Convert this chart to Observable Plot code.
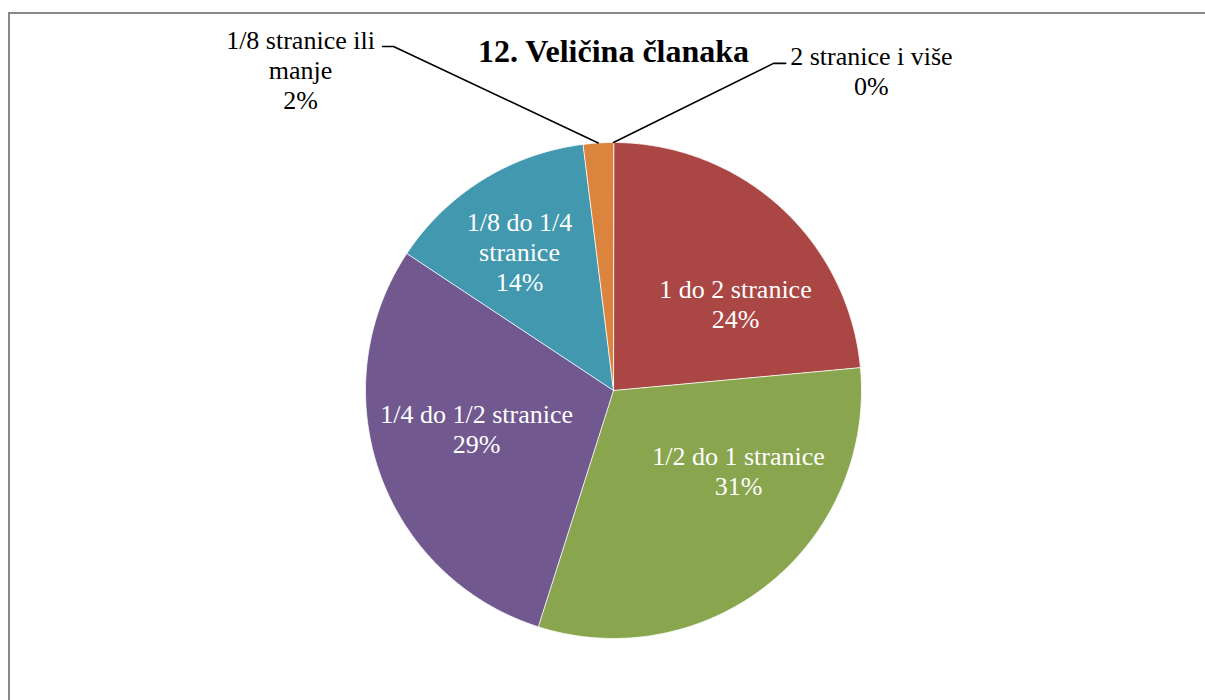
<!DOCTYPE html>
<html><head><meta charset="utf-8">
<script src="https://cdn.jsdelivr.net/npm/d3@7"></script>
<script src="https://cdn.jsdelivr.net/npm/@observablehq/plot@0.6"></script>
<style>
html,body{margin:0;padding:0;background:#fff;overflow:hidden;}
#wrap{position:relative;width:1205px;height:700px;overflow:hidden;}
#border{position:absolute;left:8px;top:12px;width:3000px;height:3000px;border-left:2px solid #898989;border-top:2px solid #898989;}
#chart{position:absolute;left:0;top:0;}
</style></head><body>
<div id="wrap"><div id="border"></div><div id="chart"></div></div>
<script>
// ---- data ----
const title = "12. Veličina članaka";
const categories = ["2 stranice i više", "1 do 2 stranice", "1/2 do 1 stranice", "1/4 do 1/2 stranice", "1/8 do 1/4 stranice", "1/8 stranice ili manje"];
const counts = [0, 12, 16, 15, 7, 1];
const labelLines = ["2 stranice i više", "1 do 2 stranice", "1/2 do 1 stranice", "1/4 do 1/2 stranice", "1/8 do 1/4\nstranice", "1/8 stranice ili\nmanje"];
const colors = ["#4572A7", "#AA4643", "#89A54E", "#71588F", "#4198AF", "#DB843D"];

// ---- layout (radius units, y up, relative to pie centre) ----
const W = 1205, H = 700, CX = 613, CY = 390, R = 248;
const layout = {
  "2 stranice i više":      {lx: 1.040, ly: 1.292, outside: true, elbow: [0.645, 1.319], end: [0.694, 1.319]},
  "1 do 2 stranice":        {lx: 0.492, ly: 0.351},
  "1/2 do 1 stranice":      {lx: 0.504, ly: -0.323},
  "1/4 do 1/2 stranice":    {lx: -0.552, ly: -0.153},
  "1/8 do 1/4 stranice":    {lx: -0.379, ly: 0.560},
  "1/8 stranice ili manje": {lx: -1.262, ly: 1.294, outside: true, elbow: [-0.887, 1.387], end: [-0.931, 1.387]}
};

const total = d3.sum(counts);
const pct = d3.format(".0%");
const arcs = d3.pie().sort(null).startAngle(0).endAngle(2 * Math.PI)(counts);

// slice polygons
const slicePts = [];
arcs.forEach((a, i) => {
  if (a.endAngle - a.startAngle <= 0) return;
  const key = categories[i];
  slicePts.push({key, x: 0, y: 0});
  const n = Math.max(2, Math.ceil((a.endAngle - a.startAngle) / (Math.PI / 360)));
  for (let k = 0; k <= n; k++) {
    const t = a.startAngle + (a.endAngle - a.startAngle) * k / n;
    slicePts.push({key, x: Math.sin(t), y: Math.cos(t)});
  }
});

// labels
const labels = categories.map((c, i) => ({
  key: c,
  text: labelLines[i] + "\n" + pct(counts[i] / total),
  x: layout[c].lx, y: layout[c].ly,
  outside: !!layout[c].outside
}));

// leader lines
const leaders = [];
arcs.forEach((a, i) => {
  const L = layout[categories[i]];
  if (!L.outside) return;
  const m = (a.startAngle + a.endAngle) / 2;
  leaders.push({key: categories[i], x: Math.sin(m), y: Math.cos(m)});
  leaders.push({key: categories[i], x: L.elbow[0], y: L.elbow[1]});
  leaders.push({key: categories[i], x: L.end[0], y: L.end[1]});
});

const font = "'Liberation Serif', 'Times New Roman', serif";

const chart = Plot.plot({
  width: W, height: H,
  marginTop: 0, marginRight: 0, marginBottom: 0, marginLeft: 0,
  x: {domain: [-CX / R, (W - CX) / R], axis: null},
  y: {domain: [(CY - H) / R, CY / R], axis: null},
  color: {domain: categories, range: colors},
  style: {fontFamily: font, background: "transparent", overflow: "visible"},
  marks: [
    Plot.line(slicePts, {x: "x", y: "y", z: "key", fill: "key", stroke: "white", strokeWidth: 0.8, curve: "linear-closed"}),
    Plot.line(leaders, {x: "x", y: "y", z: "key", stroke: "black", strokeWidth: 1.6}),
    Plot.text(labels.filter(d => !d.outside), {x: "x", y: "y", text: "text", fill: "white", fontSize: 26, lineHeight: 1.16, lineAnchor: "middle", textAnchor: "middle"}),
    Plot.text(labels.filter(d => d.outside), {x: "x", y: "y", text: "text", fill: "black", fontSize: 26, lineHeight: 1.16, lineAnchor: "middle", textAnchor: "middle"}),
    Plot.text([title], {x: () => 0, y: () => (CY - 51) / R, text: d => d, fontSize: 32, fontWeight: "bold", fill: "black", lineAnchor: "middle", textAnchor: "middle"})
  ]
});
document.getElementById("chart").appendChild(chart);
</script>
</body></html>
